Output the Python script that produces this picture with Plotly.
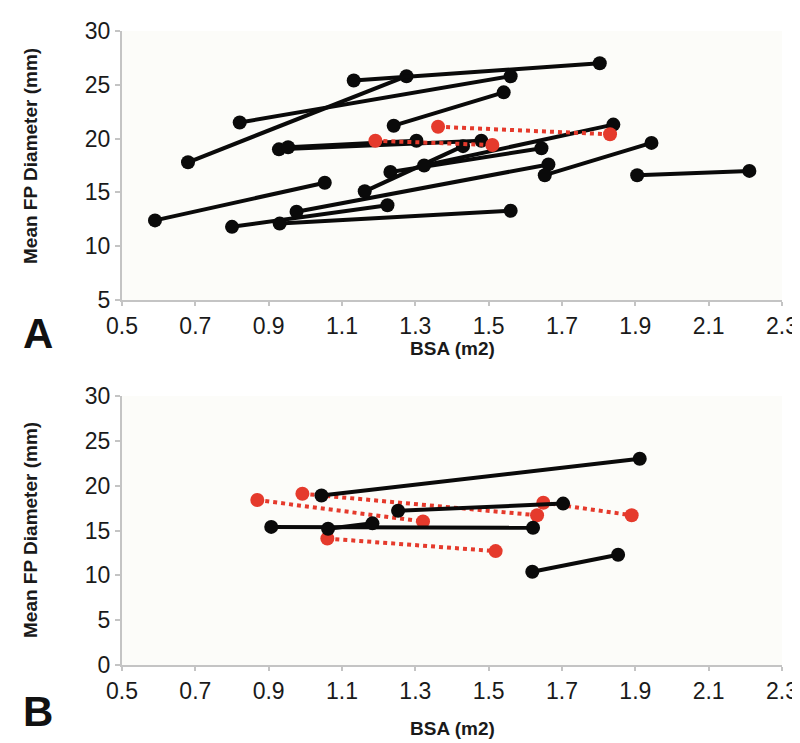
import plotly.graph_objects as go

# ---------------- Panel A data (BSA m2, mean FP diameter mm) ----------------
a_black_x0 = [0.59, 0.80, 0.93, 0.976, 1.232, 1.653, 1.905, 0.68, 1.132, 0.821, 1.241, 0.928, 0.953, 1.162, 1.324]
a_black_y0 = [12.4, 11.8, 12.1, 13.2, 16.9, 16.6, 16.6, 17.8, 25.4, 21.5, 21.2, 19.0, 19.2, 15.1, 17.5]
a_black_x1 = [1.053, 1.224, 1.56, 1.663, 1.644, 1.944, 2.211, 1.276, 1.803, 1.56, 1.541, 1.48, 1.303, 1.43, 1.84]
a_black_y1 = [15.9, 13.8, 13.3, 17.6, 19.1, 19.6, 17.0, 25.8, 27.0, 25.8, 24.3, 19.8, 19.8, 19.3, 21.3]

a_red_x0 = [1.362, 1.191]
a_red_y0 = [21.1, 19.8]
a_red_x1 = [1.831, 1.51]
a_red_y1 = [20.4, 19.4]

# ---------------- Panel B data ----------------
b_black_x0 = [1.044, 1.253, 0.907, 1.062, 1.619]
b_black_y0 = [18.9, 17.2, 15.4, 15.2, 10.4]
b_black_x1 = [1.912, 1.703, 1.621, 1.183, 1.853]
b_black_y1 = [23.0, 18.0, 15.3, 15.8, 12.3]

b_red_x0 = [0.869, 0.992, 1.649, 1.06]
b_red_y0 = [18.4, 19.1, 18.1, 14.1]
b_red_x1 = [1.321, 1.632, 1.89, 1.519]
b_red_y1 = [16.0, 16.7, 16.7, 12.7]

x_ticks = [0.5, 0.7, 0.9, 1.1, 1.3, 1.5, 1.7, 1.9, 2.1, 2.3]
ya_ticks = [5, 10, 15, 20, 25, 30]
yb_ticks = [0, 5, 10, 15, 20, 25, 30]

BLACK = "#0a0a0a"
RED = "#e53a2c"
AXC = "#c4c4c4"
TICKFONT = dict(family="Liberation Sans, Arial", size=23, color="#1a1a1a")

fig = go.Figure()


def add_segments(x0, y0, x1, y1, xa, ya, color, dash):
    for i in range(len(x0)):
        fig.add_trace(go.Scatter(
            x=[x0[i], x1[i]], y=[y0[i], y1[i]],
            mode="lines+markers",
            line=dict(color=color, width=4, dash=dash),
            marker=dict(color=color, size=14),
            xaxis=xa, yaxis=ya, showlegend=False, hoverinfo="skip",
            cliponaxis=False,
        ))


add_segments(a_black_x0, a_black_y0, a_black_x1, a_black_y1, "x", "y", BLACK, "solid")
add_segments(a_red_x0, a_red_y0, a_red_x1, a_red_y1, "x", "y", RED, "dot")
add_segments(b_red_x0, b_red_y0, b_red_x1, b_red_y1, "x2", "y2", RED, "dot")
add_segments(b_black_x0, b_black_y0, b_black_x1, b_black_y1, "x2", "y2", BLACK, "solid")

W, H = 800, 743
xdom = [114 / W, 774 / W]
ya_dom = [(H - 292) / H, (H - 23) / H]
yb_dom = [(H - 657) / H, (H - 388) / H]

xcommon = dict(range=[0.5, 2.3], tickvals=x_ticks, ticktext=[f"{v:.1f}" for v in x_ticks],
               showline=True, linecolor=AXC, linewidth=2, ticks="outside", ticklen=4,
               tickcolor=AXC, tickwidth=1.5, showgrid=False, zeroline=False,
               tickfont=TICKFONT, domain=xdom, fixedrange=True, automargin=False)
ycommon = dict(showline=True, linecolor=AXC, linewidth=2, ticks="outside", ticklen=5,
               tickcolor=AXC, tickwidth=1.5, showgrid=False, zeroline=False,
               tickfont=TICKFONT, fixedrange=True, automargin=False)

fig.update_layout(
    width=W, height=H,
    margin=dict(l=0, r=0, t=0, b=0, autoexpand=False),
    paper_bgcolor="white",
    plot_bgcolor="#fcfcf9",
    xaxis=dict(**xcommon, anchor="y"),
    yaxis=dict(**ycommon, range=[5, 30], tickvals=ya_ticks, domain=ya_dom, anchor="x"),
    xaxis2=dict(**xcommon, anchor="y2"),
    yaxis2=dict(**ycommon, range=[0, 30], tickvals=yb_ticks, domain=yb_dom, anchor="x2"),
)

TITLEFONT = dict(family="Liberation Sans, Arial", size=19, color="#1a1a1a")
ann = [
    dict(text="<b>BSA (m2)</b>", x=444, y=H - 340, font=TITLEFONT),
    dict(text="<b>BSA (m2)</b>", x=444, y=H - 720, font=TITLEFONT),
    dict(text="<b>Mean FP Diameter (mm)</b>", x=22, y=H - 148, textangle=-90, font=TITLEFONT),
    dict(text="<b>Mean FP Diameter (mm)</b>", x=22, y=H - 522, textangle=-90, font=TITLEFONT),
    dict(text="<b>A</b>", x=30, y=H - 325, font=dict(family="Liberation Sans, Arial", size=42, color="#111")),
    dict(text="<b>B</b>", x=30, y=H - 703, font=dict(family="Liberation Sans, Arial", size=42, color="#111")),
]
for a in ann:
    fig.add_annotation(xref="paper", yref="paper", x=a["x"] / W, y=a["y"] / H, text=a["text"],
                       showarrow=False, xanchor="center", yanchor="middle",
                       textangle=a.get("textangle", 0), font=a["font"])

fig.write_html("out.html")
